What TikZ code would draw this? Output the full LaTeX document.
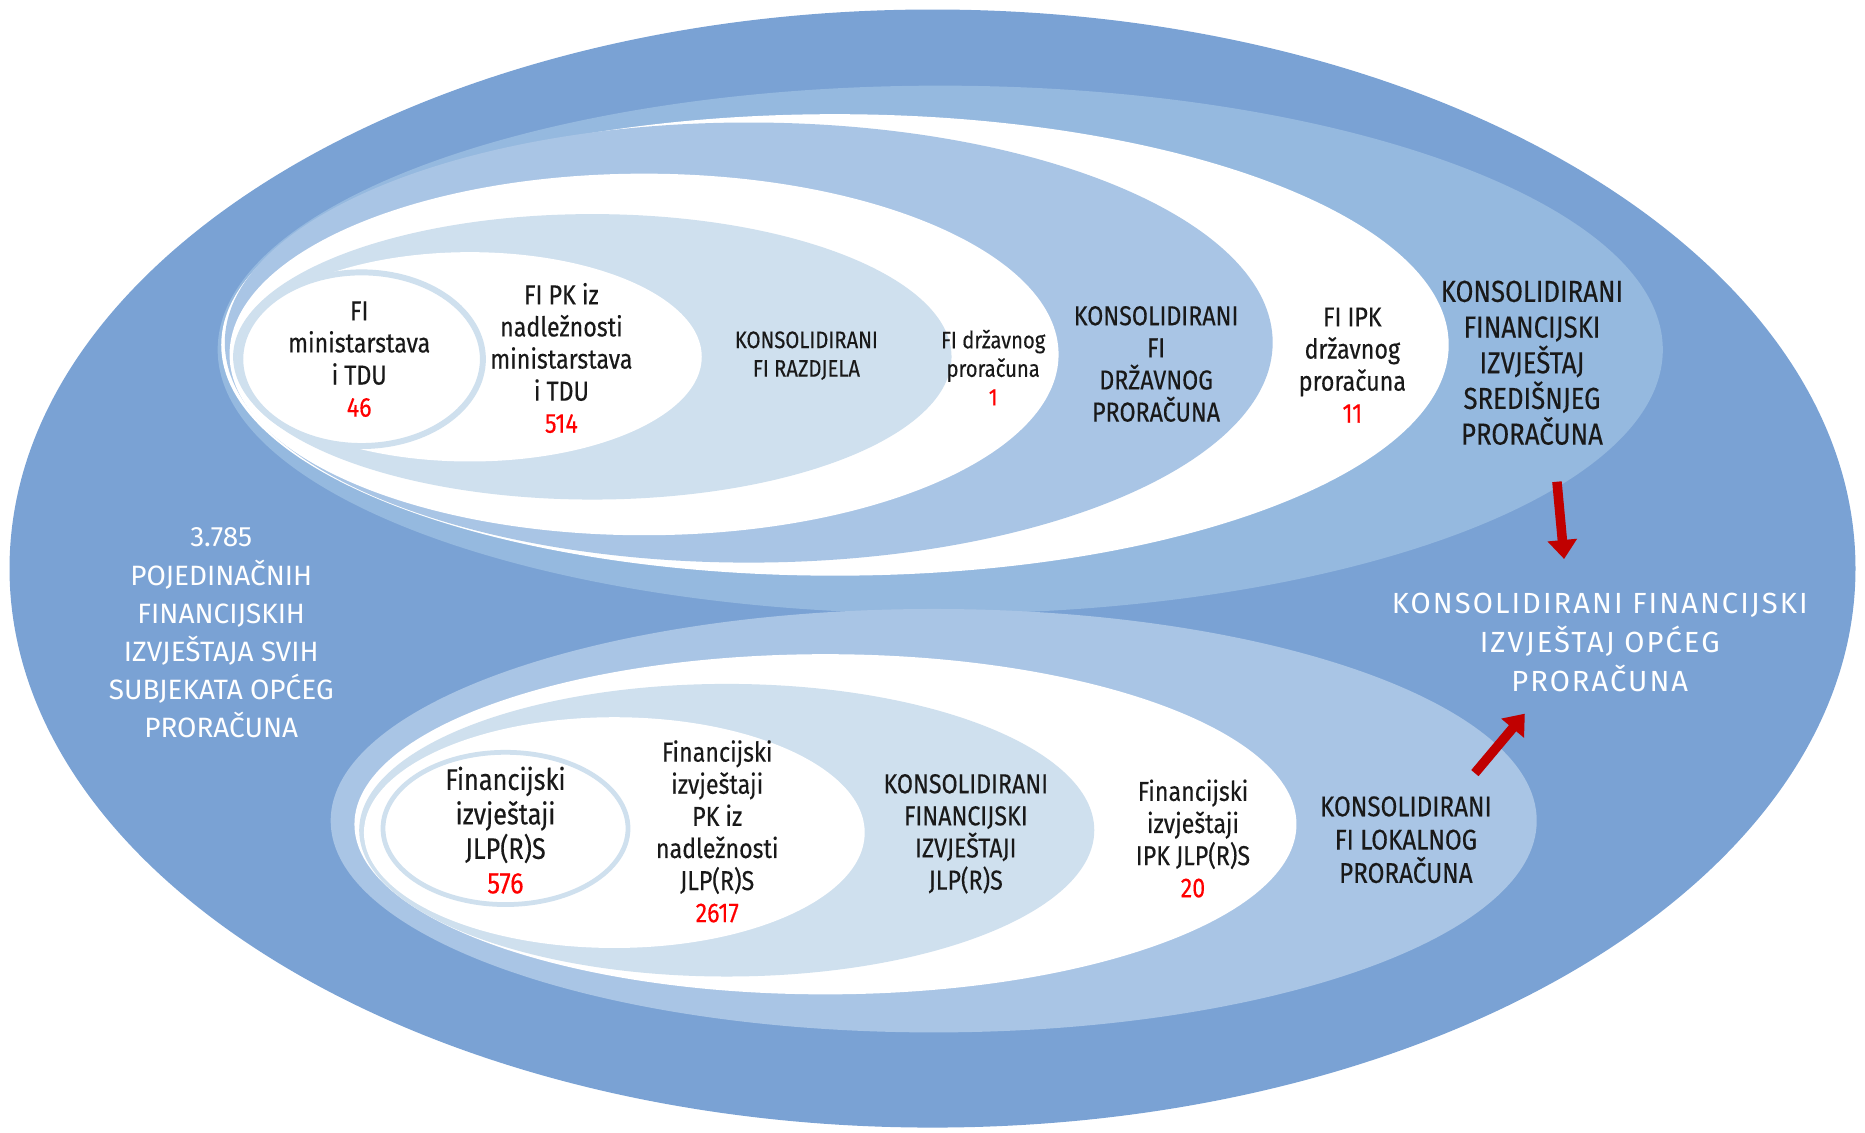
\documentclass[tikz,border=0pt]{standalone}
\usepackage{fontspec}
\setmainfont{Fira Sans}[FakeStretch=0.85,FakeBold=0.3]
\newfontfamily\widefont{Fira Sans}
\newfontfamily\spacedfont{Fira Sans}[LetterSpace=7]
\usetikzlibrary{arrows.meta}
\definecolor{outerblue}{HTML}{7AA2D4}
\definecolor{midblue}{HTML}{95B9DF}
\definecolor{softblue}{HTML}{A9C5E5}
\definecolor{paleblue}{HTML}{CFE0EE}
\definecolor{arrowred}{HTML}{C00000}
\newcommand{\num}[1]{\textcolor{red}{#1}}

\begin{document}
\begin{tikzpicture}[x=1pt,y=-1pt,
  lbl/.style={align=center,text=black!90,font=\fontsize{23}{27}\selectfont},
  smalllbl/.style={lbl,font=\fontsize{20}{24}\selectfont},
  biglbl/.style={lbl,font=\fontsize{25.5}{30}\selectfont},
  whitelbl/.style={align=center,text=white,font=\widefont\fontsize{23.5}{32}\selectfont},
  redarrow/.style={draw=arrowred,line width=8pt,-{Triangle[width=24pt,length=16pt]}}]

\useasboundingbox (0,0) rectangle (1568,952);

% all subjects
\fill[outerblue] (784,478) ellipse [x radius=776pt,y radius=470pt];

% central budget
\fill[midblue] (790.5,294) ellipse [x radius=607.5pt,y radius=222pt];
\fill[white] (702,290) ellipse [x radius=516pt,y radius=194pt];
\fill[softblue] (629.5,288) ellipse [x radius=440.5pt,y radius=185pt];
\fill[white] (541.5,298) ellipse [x radius=348.5pt,y radius=152pt];
\fill[paleblue] (498,300) ellipse [x radius=302pt,y radius=120pt];
\fill[white] (395,300) ellipse [x radius=195pt,y radius=88pt];
\draw[paleblue,fill=white,line width=5pt] (304,302) ellipse [x radius=102pt,y radius=73pt];

% local budget
\fill[softblue] (785,690) ellipse [x radius=507pt,y radius=178pt];
\fill[white] (694,693) ellipse [x radius=396pt,y radius=143pt];
\fill[paleblue] (611,698) ellipse [x radius=309pt,y radius=123pt];
\fill[white] (516.5,700) ellipse [x radius=210.5pt,y radius=97pt];
\draw[paleblue,fill=white,line width=4pt] (425,696.5) ellipse [x radius=103pt,y radius=64pt];

\node[lbl] (min) at (302,302) {FI\\ministarstava\\i TDU\\\num{46}};
\node[lbl] (pkmin) at (472,301) {FI PK iz\\nadležnosti\\ministarstava\\i TDU\\\num{514}};
\node[smalllbl] (razd) at (678,299) {KONSOLIDIRANI\\FI RAZDJELA};
\node[smalllbl] (drz) at (835,309) {FI državnog\\proračuna\\\num{1}};
\node[lbl] (kdrz) at (972,306) {KONSOLIDIRANI\\FI\\DRŽAVNOG\\PRORAČUNA};
\node[lbl] (ipk) at (1137,307) {FI IPK\\državnog\\proračuna\\\num{11}};
\node[biglbl] (sred) at (1288,305) {KONSOLIDIRANI\\FINANCIJSKI\\IZVJEŠTAJ\\SREDIŠNJEG\\PRORAČUNA};

\node[lbl,font=\fontsize{25}{29}\selectfont] (jlp) at (425,698) {Financijski\\izvještaji\\JLP(R)S\\\num{576}};
\node[lbl] (pkjlp) at (603,699) {Financijski\\izvještaji\\PK iz\\nadležnosti\\JLP(R)S\\\num{2617}};
\node[lbl] (kjlp) at (812,701) {KONSOLIDIRANI\\FINANCIJSKI\\IZVJEŠTAJI\\JLP(R)S};
\node[lbl] (ipkjlp) at (1003,705) {Financijski\\izvještaji\\IPK JLP(R)S\\\num{20}};
\node[lbl,font=\fontsize{24}{28}\selectfont] (lok) at (1182,706) {KONSOLIDIRANI\\FI LOKALNOG\\PRORAČUNA};

\node[whitelbl] (svi) at (186,532) {3.785\\POJEDINAČNIH\\FINANCIJSKIH\\IZVJEŠTAJA SVIH\\SUBJEKATA OPĆEG\\PRORAČUNA};
\node[whitelbl,font=\spacedfont\fontsize{24.5}{33}\selectfont] (opci) at (1345,540) {KONSOLIDIRANI FINANCIJSKI\\IZVJEŠTAJ OPĆEG\\PRORAČUNA};

\draw[redarrow] ([xshift=21pt,yshift=-100pt]sred.center) -- ([xshift=-30pt,yshift=70pt]opci.center);
\draw[redarrow] ([xshift=58pt,yshift=56pt]lok.center) -- ([xshift=-63pt,yshift=-60pt]opci.center);

\end{tikzpicture}
\end{document}
